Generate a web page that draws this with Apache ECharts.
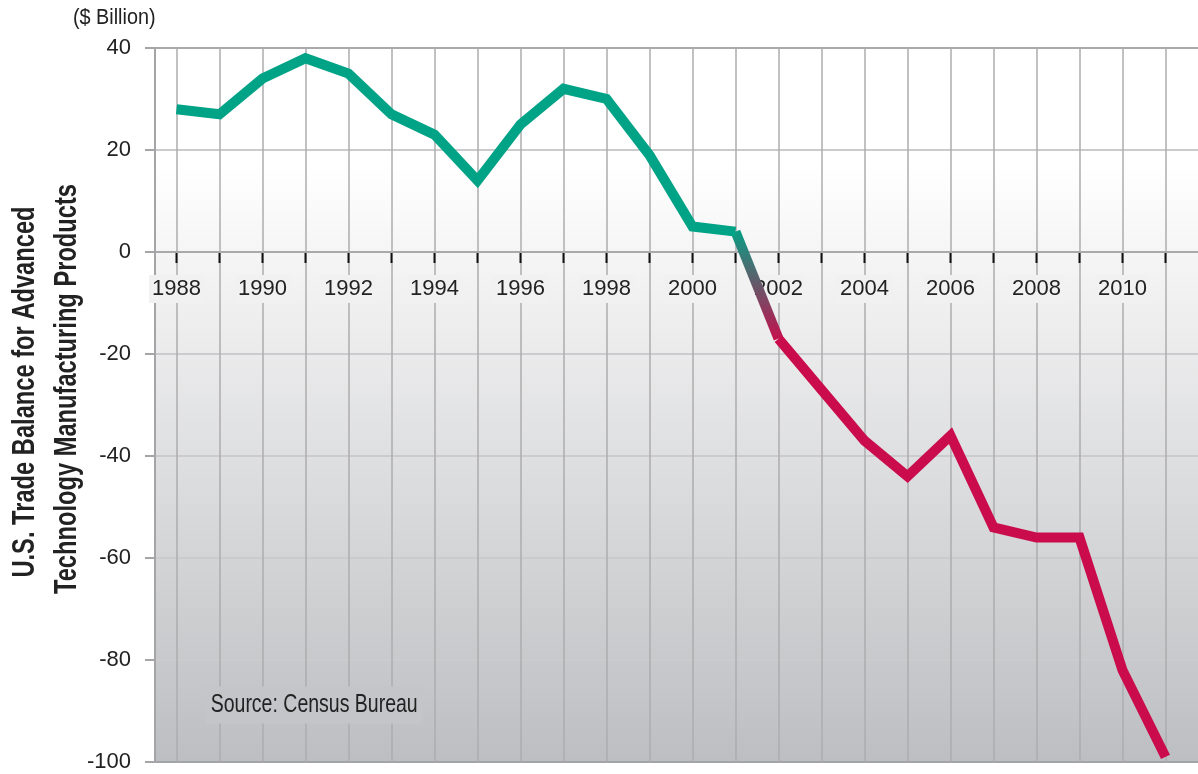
<!DOCTYPE html>
<html>
<head>
<meta charset="utf-8">
<script src="https://cdn.jsdelivr.net/npm/echarts@6/dist/echarts.min.js"></script>
<style>
html,body{margin:0;padding:0;background:#fff;}
#chart{width:1198px;height:774px;}
</style>
</head>
<body>
<div id="chart"></div>
<script>
// ---- data ----
var years = [1988,1989,1990,1991,1992,1993,1994,1995,1996,1997,1998,1999,2000,2001,2002,2003,2004,2005,2006,2007,2008,2009,2010,2011];
var balance = [28,27,34,38,35,27,23,14,25,32,30,19,5,4,-17,-27,-37,-44,-36,-54,-56,-56,-82,-99];
var yTicks = [-100,-80,-60,-40,-20,0,20,40];
var lastSurplusYear = 2001;
var firstDeficitYear = 2002;
var yTitleLines = ['U.S. Trade Balance for Advanced','Technology Manufacturing Products'];
var unitLabel = '($ Billion)';
var sourceLabel = 'Source: Census Bureau';

var FONT = '"Liberation Sans",Arial,sans-serif';
var GREEN = '#01a386', RED = '#cb0c4c';

var cats = years.map(String);
var greenData = years.map(function(y,i){return y<=lastSurplusYear?balance[i]:null;});
var redData = years.map(function(y,i){return y>=firstDeficitYear?balance[i]:null;});
var midData = years.map(function(y,i){return (y===lastSurplusYear||y===firstDeficitYear)?balance[i]:null;});
var tickData = years.map(function(y){return [String(y),0];});

var hColors = yTicks.map(function(v){
  if(v===yTicks[0]) return '#a3a4a7';
  if(v===yTicks[yTicks.length-1]) return '#a9a9ac';
  if(v===0) return '#a9a9ab';
  return '#cbcbcd';
});

var yMin = yTicks[0], yMax = yTicks[yTicks.length-1];
var gridCommon = {outerBoundsMode:'none',containLabel:false};

var chart = echarts.init(document.getElementById('chart'), null, {renderer:'canvas'});
chart.setOption({
  animation:false,
  textStyle:{fontFamily:FONT},
  grid:[
    Object.assign({left:155,right:0,top:48,bottom:12,show:true,borderWidth:0,z:0,
     backgroundColor:new echarts.graphic.LinearGradient(0,0,0,1,[
       {offset:0,color:'#ffffff'},{offset:0.16,color:'#ffffff'},{offset:1,color:'#bdbec1'}])},gridCommon),
    Object.assign({left:155,width:1032,top:48,bottom:12},gridCommon),
    Object.assign({left:155,width:1032,top:48,height:204},gridCommon)
  ],
  xAxis:[
    {gridIndex:0,type:'value',min:0,max:1,show:false},
    {gridIndex:1,type:'category',data:cats,boundaryGap:true,z:0,
     axisLine:{show:false},axisTick:{show:false},axisLabel:{show:false},
     splitLine:{show:true,alignWithLabel:true,interval:0,lineStyle:{color:'#acacae',width:1.5}}
    },
    {gridIndex:2,type:'category',data:cats,boundaryGap:true,position:'bottom',z:1,
     axisLine:{show:false,onZero:false},
     axisTick:{show:false},
     axisLabel:{interval:1,fontSize:22,color:'#222',margin:23,fontFamily:FONT,
       backgroundColor:'#f1f1f2',padding:[3,3]},
     splitLine:{show:false}
    }
  ],
  yAxis:[
    {gridIndex:0,type:'value',min:yMin,max:yMax,interval:20,z:0,
     axisLine:{show:true,lineStyle:{color:'#a5a5a8',width:2}},
     axisTick:{show:true,length:10,lineStyle:{color:'#a5a5a8',width:2}},
     axisLabel:{fontSize:22,color:'#222',margin:24,fontFamily:FONT},
     splitLine:{show:true,lineStyle:{color:hColors,width:2}}
    },
    {gridIndex:1,type:'value',min:yMin,max:yMax,interval:20,show:false,splitLine:{show:false}},
    {gridIndex:2,type:'value',min:0,max:yMax,show:false,splitLine:{show:false}}
  ],
  graphic:[
    {type:'text',x:73,y:29,scaleX:0.9,style:{text:unitLabel,font:'22px '+FONT,fill:'#222',textAlign:'left',textVerticalAlign:'bottom'}},
    {type:'text',x:206,y:705,scaleX:0.78,z:1,style:{text:sourceLabel,font:'25px '+FONT,fill:'#222',textAlign:'left',textVerticalAlign:'middle',
      backgroundColor:'#c4c5c8',padding:[6,6]}},
    {type:'text',x:25,y:392,rotation:Math.PI/2,scaleX:0.74,style:{text:yTitleLines[0],font:'bold 32px '+FONT,fill:'#222',textAlign:'center',textVerticalAlign:'middle'}},
    {type:'text',x:67,y:389,rotation:Math.PI/2,scaleX:0.74,style:{text:yTitleLines[1],font:'bold 32px '+FONT,fill:'#222',textAlign:'center',textVerticalAlign:'middle'}}
  ],
  series:[
    {type:'scatter',xAxisIndex:1,yAxisIndex:1,data:tickData,symbol:'rect',symbolSize:[2,10],symbolOffset:[0,6],
     clip:false,itemStyle:{color:'#111',opacity:1,borderWidth:0},z:5,silent:true},
    {type:'line',xAxisIndex:1,yAxisIndex:1,data:midData,symbol:'none',connectNulls:false,z:3,
     lineStyle:{width:10,cap:'butt',join:'miter',color:new echarts.graphic.LinearGradient(0,0,0,1,[{offset:0,color:GREEN},{offset:1,color:RED}])}},
    {type:'line',xAxisIndex:1,yAxisIndex:1,data:greenData,symbol:'none',z:4,
     lineStyle:{width:10,cap:'butt',join:'miter',color:GREEN}},
    {type:'line',xAxisIndex:1,yAxisIndex:1,data:redData,symbol:'none',z:4,
     lineStyle:{width:10,cap:'butt',join:'miter',color:RED}}
  ]
});
</script>
</body>
</html>
